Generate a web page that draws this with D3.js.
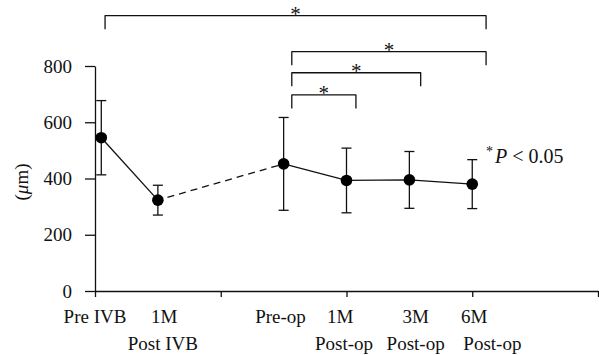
<!DOCTYPE html>
<html>
<head>
<meta charset="utf-8">
<script src="https://cdn.jsdelivr.net/npm/d3@7"></script>
<style>
  body { margin: 0; background: #fff; }
  svg { display: block; }
  svg text { font-family: "Liberation Serif", "Times New Roman", serif; }
</style>
</head>
<body>
<svg id="chart" width="599" height="355"></svg>
<script>
// time points (x in axis units) and the thickness values
const pointX   = [0.1, 1, 3, 4, 5, 6];
const means    = [545, 323, 452, 393, 395, 380];
const sds      = [132, 53, 165, 115, 101, 87];

// category labels, two rows
const topLabels    = ['Pre IVB', '1M', 'Pre-op', '1M', '3M', '6M'];
const topLabelX    = [0, 1.1, 2.95, 3.9, 5.1, 6.03];
const bottomLabels = ['Post IVB', 'Post-op', 'Post-op', 'Post-op'];
const bottomLabelX = [1.08, 3.96, 5.1, 6.32];

const yTicks = [0, 200, 400, 600, 800];
const xTicks = [0, 2, 4, 6, 8];

// significance brackets (axis units / value units)
const bracketFrom = [0.16, 3.13, 3.13, 3.13];
const bracketTo   = [6.22, 6.22, 5.18, 4.15];
const bracketTop  = [979, 851, 776, 697];
const bracketDrop = 48;

const solidRuns = [[0, 1], [2, 3, 4, 5]];
const dashedRuns = [[1, 2]];

const svg = d3.select('#chart');
const x = d3.scaleLinear().domain([0, 8]).range([95, 598]);
const y = d3.scaleLinear().domain([0, 800]).range([291, 66]);

const ink = '#111';

// y axis
const gy = svg.append('g').attr('transform', `translate(${x(0)},0)`)
  .call(d3.axisLeft(y).tickValues(yTicks).tickSize(10).tickSizeOuter(0).tickPadding(13));
gy.attr('font-family', null).attr('font-size', 19);
gy.selectAll('text').attr('fill', ink);

// x axis
const gx = svg.append('g').attr('transform', `translate(0,${y(0)})`)
  .call(d3.axisBottom(x).tickValues(xTicks).tickSize(6).tickSizeOuter(0).tickFormat(''));

svg.selectAll('.domain, .tick line').attr('stroke', ink).attr('stroke-width', 1.3);

// y label
svg.append('text')
  .attr('transform', 'translate(28,182) rotate(-90)')
  .attr('text-anchor', 'middle').attr('font-size', 19).attr('fill', ink)
  .call(t => {
    t.append('tspan').text('(');
    t.append('tspan').attr('font-style', 'italic').text('μ');
    t.append('tspan').text('m)');
  });

// category labels
svg.append('g').selectAll('text').data(topLabels).join('text')
  .attr('x', (d, i) => x(topLabelX[i])).attr('y', 323)
  .attr('text-anchor', 'middle').attr('font-size', 19).attr('fill', ink)
  .text(d => d);
svg.append('g').selectAll('text').data(bottomLabels).join('text')
  .attr('x', (d, i) => x(bottomLabelX[i])).attr('y', 350)
  .attr('text-anchor', 'middle').attr('font-size', 19).attr('fill', ink)
  .text(d => d);

// connecting lines
const line = d3.line().x(i => x(pointX[i])).y(i => y(means[i]));
svg.append('g').selectAll('path').data(solidRuns).join('path')
  .attr('d', line).attr('fill', 'none').attr('stroke', ink).attr('stroke-width', 1.3);
svg.append('g').selectAll('path').data(dashedRuns).join('path')
  .attr('d', line).attr('fill', 'none').attr('stroke', ink).attr('stroke-width', 1.3)
  .attr('stroke-dasharray', '7,5').attr('stroke-dashoffset', -10);

// error bars
const eb = svg.append('g').attr('stroke', ink).attr('stroke-width', 1.3);
means.forEach((m, i) => {
  const cx = x(pointX[i]);
  eb.append('line').attr('x1', cx).attr('x2', cx).attr('y1', y(m - sds[i])).attr('y2', y(m + sds[i]));
  [m - sds[i], m + sds[i]].forEach(v => {
    eb.append('line').attr('x1', cx - 5).attr('x2', cx + 5).attr('y1', y(v)).attr('y2', y(v));
  });
});

// markers
svg.append('g').selectAll('circle').data(means).join('circle')
  .attr('cx', (d, i) => x(pointX[i])).attr('cy', d => y(d))
  .attr('r', 5.8).attr('fill', '#000');

// brackets
const br = svg.append('g');
bracketTop.forEach((t, i) => {
  const x0 = x(bracketFrom[i]), x1 = x(bracketTo[i]);
  const yt = y(t), yb = y(t - bracketDrop);
  br.append('path')
    .attr('d', `M${x0},${yb}V${yt}H${x1}V${yb}`)
    .attr('fill', 'none').attr('stroke', ink).attr('stroke-width', 1.3)
    .attr('stroke-linejoin', 'round');
  br.append('text')
    .attr('x', (x0 + x1) / 2).attr('y', yt + 5)
    .attr('text-anchor', 'middle').attr('font-size', 21).attr('fill', ink)
    .text('*');
});

// significance note
svg.append('text').attr('x', 486).attr('y', 163).attr('font-size', 20).attr('fill', ink)
  .call(t => {
    t.append('tspan').attr('font-size', 14).attr('dy', -7).text('*');
    t.append('tspan').attr('font-style', 'italic').attr('dy', 7).attr('dx', 2).text('P');
    t.append('tspan').text(' < 0.05');
  });
</script>
</body>
</html>
